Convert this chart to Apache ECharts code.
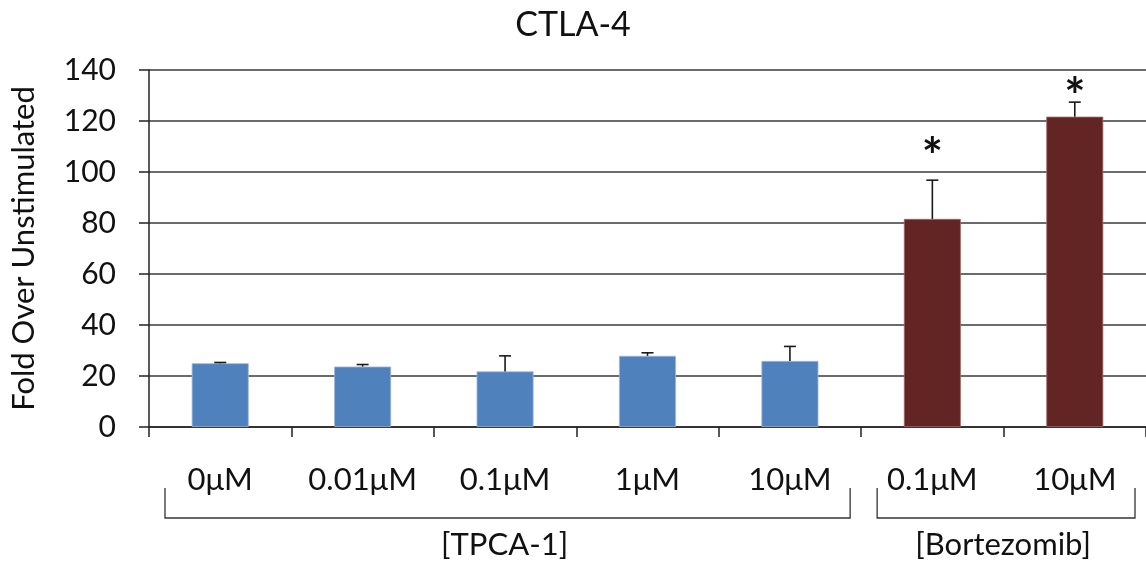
<!DOCTYPE html>
<html>
<head>
<meta charset="utf-8">
<script src="https://cdn.jsdelivr.net/npm/echarts@6/dist/echarts.min.js"></script>
<style>
html,body{margin:0;padding:0;background:#fff;}
#c{width:1146px;height:567px;}
</style>
</head>
<body>
<div id="c"></div>
<script>
// ---- data ----
var categories = ['0\u03bcM', '0.01\u03bcM', '0.1\u03bcM', '1\u03bcM', '10\u03bcM', '0.1\u03bcM', '10\u03bcM'];
var tpcaValues = [25.0, 23.7, 21.8, 27.9, 25.9, null, null];
var bortValues = [null, null, null, null, null, 81.6, 121.7];
var errorTops = [25.3, 24.5, 27.9, 29.1, 31.6, 96.8, 127.4];
var starValues = [null, null, null, null, null, 110.2, 133.7];
var groupNames = ['[TPCA-1]', '[Bortezomib]'];
var groupSpans = [[0, 4], [5, 6]];
var yTicks = { min: 0, max: 140, interval: 20 };

var FONT = 'Lato';
var chart = echarts.init(document.getElementById('c'), null, { renderer: 'canvas' });

var barValues = tpcaValues.map(function (v, i) { return v != null ? v : bortValues[i]; });

var option = {
  animation: false,
  backgroundColor: '#ffffff',
  title: {
    text: 'CTLA-4',
    left: 'center',
    top: 3,
    textStyle: { fontFamily: FONT, fontSize: 34, fontWeight: 'normal', color: '#111' }
  },
  grid: { left: 148, right: -3, top: 70, bottom: 140, containLabel: false },
  xAxis: {
    type: 'category',
    data: categories,
    axisLine: { lineStyle: { color: '#222', width: 1.5 } },
    axisTick: { show: true, length: 10, inside: false, alignWithLabel: false, lineStyle: { color: '#222', width: 1.5 } },
    axisLabel: { margin: 37, fontFamily: FONT, fontSize: 31, color: '#111', interval: 0 },
    splitLine: { show: false }
  },
  yAxis: {
    type: 'value',
    min: yTicks.min, max: yTicks.max, interval: yTicks.interval,
    name: 'Fold Over Unstimulated',
    nameLocation: 'middle',
    nameGap: 110,
    nameTextStyle: { fontFamily: FONT, fontSize: 31, color: '#111' },
    axisLine: { show: true, lineStyle: { color: '#222', width: 1.5 } },
    axisTick: { show: true, length: 10, lineStyle: { color: '#222', width: 1.5 } },
    axisLabel: { margin: 33, fontFamily: FONT, fontSize: 30, color: '#111' },
    splitLine: { show: true, lineStyle: { color: '#3a3a3a', width: 1.5 } }
  },
  series: [
    {
      name: 'TPCA-1', type: 'bar', data: tpcaValues, barWidth: '40%', barGap: '-100%',
      itemStyle: { color: '#4F81BD', borderColor: '#9db6d8', borderWidth: 0.8 }, z: 2
    },
    {
      name: 'Bortezomib', type: 'bar', data: bortValues, barWidth: '40%', barGap: '-100%',
      itemStyle: { color: '#632523', borderColor: '#a06a68', borderWidth: 0.8 }, z: 2
    },
    {
      name: 'err', type: 'custom', z: 3,
      data: errorTops.map(function (t, i) { return [i, barValues[i], t]; }),
      renderItem: function (params, api) {
        var base = api.coord([api.value(0), api.value(1)]);
        var top = api.coord([api.value(0), api.value(2)]);
        var hw = 6;
        var st = { stroke: '#1a1a1a', lineWidth: 1.6 };
        return {
          type: 'group',
          children: [
            { type: 'line', shape: { x1: base[0], y1: base[1], x2: top[0], y2: top[1] }, style: st },
            { type: 'line', shape: { x1: top[0] - hw, y1: top[1], x2: top[0] + hw, y2: top[1] }, style: st }
          ]
        };
      }
    },
    {
      name: 'star', type: 'custom', z: 4,
      data: starValues.map(function (v, i) { return [i, v]; }).filter(function (d) { return d[1] != null; }),
      renderItem: function (params, api) {
        var p = api.coord([api.value(0), api.value(1)]);
        return {
          type: 'text',
          style: {
            text: '*', x: p[0], y: p[1] + 12, textAlign: 'center', textVerticalAlign: 'middle',
            font: 'bold 50px ' + FONT, fill: '#111'
          }
        };
      }
    },
    {
      name: 'brackets', type: 'custom', z: 4, clip: false,
      data: groupSpans.map(function (s, i) { return [s[0], s[1], i]; }),
      renderItem: function (params, api) {
        var a = api.coord([api.value(0), 0]);
        var b = api.coord([api.value(1), 0]);
        var cw = api.size([1, 0])[0];
        var x1 = a[0] - cw / 2 + 16;
        var x2 = b[0] + cw / 2 - 11;
        var yTop = a[1] + 61;
        var yBot = a[1] + 91;
        var st = { stroke: '#333', lineWidth: 1.3, fill: null };
        return {
          type: 'group',
          children: [
            { type: 'polyline', shape: { points: [[x1, yTop], [x1, yBot], [x2, yBot], [x2, yTop]] }, style: st },
            {
              type: 'text',
              style: {
                text: groupNames[api.value(2)], x: (x1 + x2) / 2 - 3, y: yBot + 27,
                textAlign: 'center', textVerticalAlign: 'middle',
                font: '31px ' + FONT, fill: '#111'
              }
            }
          ]
        };
      }
    }
  ]
};
chart.setOption(option);
</script>
</body>
</html>
